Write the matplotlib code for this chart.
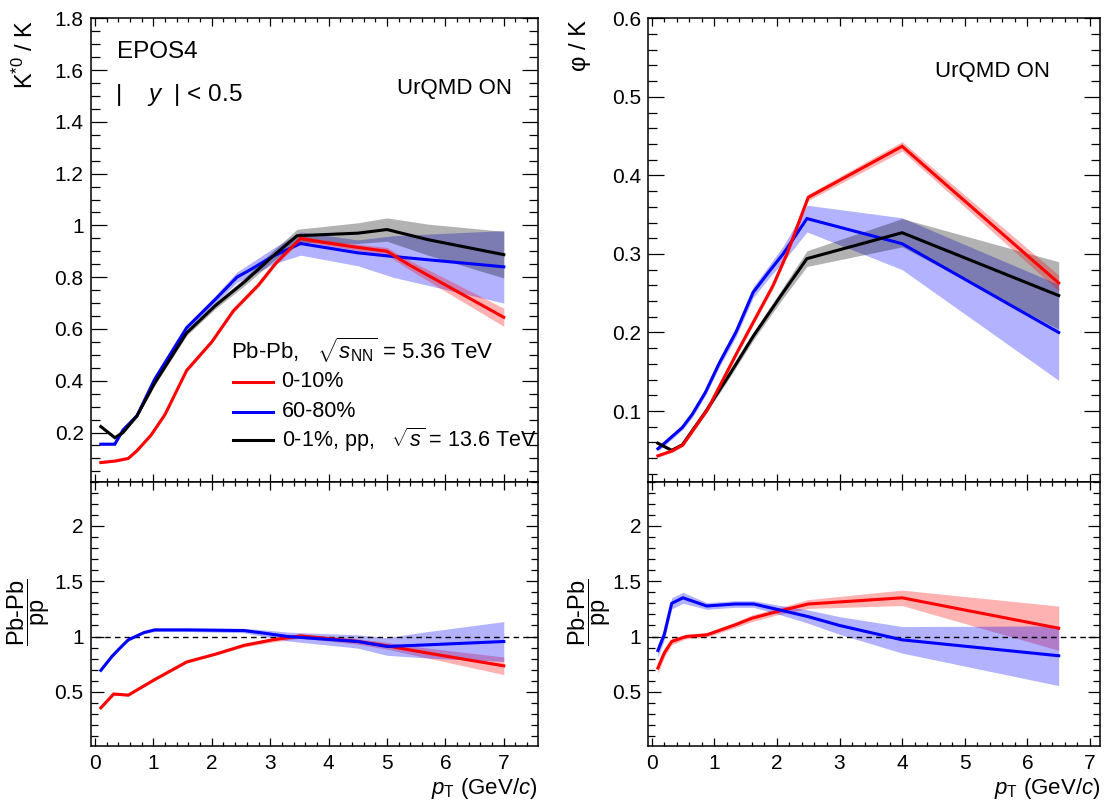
import matplotlib
matplotlib.use("Agg")
import matplotlib.pyplot as plt
from matplotlib.ticker import MultipleLocator, FuncFormatter
import numpy as np

plt.rcParams['font.family'] = ['Liberation Sans', 'DejaVu Sans']
plt.rcParams['mathtext.fontset'] = 'custom'
plt.rcParams['mathtext.rm'] = 'Liberation Sans'
plt.rcParams['mathtext.it'] = 'Liberation Sans:italic'
plt.rcParams['mathtext.bf'] = 'Liberation Sans:bold'
plt.rcParams['mathtext.default'] = 'regular'

# ---------------- K*0/K (top left) ----------------
kst_pb010_x = [0.1, 0.35, 0.57, 0.72, 0.96, 1.2, 1.57, 2.0, 2.37, 2.8, 3.1, 3.52, 3.9, 4.5, 5.0, 5.4, 6.0, 7.0]
kst_pb010_y = [0.084, 0.09, 0.10, 0.13, 0.19, 0.27, 0.44, 0.55, 0.67, 0.77, 0.855, 0.95, 0.935, 0.915, 0.90, 0.845, 0.77, 0.645]
kst_pb010_e = [0.004, 0.004, 0.004, 0.004, 0.005, 0.005, 0.006, 0.006, 0.007, 0.008, 0.008, 0.01, 0.01, 0.012, 0.015, 0.018, 0.025, 0.035]

kst_pb6080_x = [0.1, 0.34, 0.48, 0.72, 1.02, 1.57, 2.06, 2.43, 2.67, 3.04, 3.52, 4.5, 5.1, 7.0]
kst_pb6080_y = [0.155, 0.155, 0.21, 0.265, 0.405, 0.605, 0.714, 0.80, 0.83, 0.88, 0.93, 0.894, 0.88, 0.84]
kst_pb6080_e = [0.005, 0.005, 0.008, 0.008, 0.01, 0.01, 0.015, 0.02, 0.025, 0.03, 0.045, 0.05, 0.08, 0.14]

kst_pp_x = [0.1, 0.34, 0.48, 0.72, 1.02, 1.57, 2.06, 2.55, 3.04, 3.46, 4.5, 5.0, 5.7, 7.0]
kst_pp_y = [0.223, 0.18, 0.20, 0.265, 0.39, 0.585, 0.69, 0.78, 0.88, 0.96, 0.97, 0.984, 0.945, 0.887]
kst_pp_e = [0.005, 0.005, 0.005, 0.005, 0.008, 0.01, 0.012, 0.015, 0.02, 0.025, 0.04, 0.045, 0.06, 0.09]

# ---------------- phi/K (top right) ----------------
phi_pb010_x = [0.1, 0.32, 0.5, 0.9, 1.4, 1.94, 2.16, 2.5, 4.0, 6.5]
phi_pb010_y = [0.043, 0.049, 0.057, 0.103, 0.18, 0.26, 0.30, 0.372, 0.437, 0.263]
phi_pb010_e = [0.002, 0.002, 0.002, 0.003, 0.003, 0.004, 0.004, 0.004, 0.006, 0.01]

phi_pb6080_x = [0.1, 0.19, 0.49, 0.65, 0.86, 1.08, 1.35, 1.62, 1.89, 2.1, 2.48, 4.0, 6.5]
phi_pb6080_y = [0.052, 0.058, 0.079, 0.096, 0.124, 0.161, 0.201, 0.251, 0.279, 0.30, 0.345, 0.313, 0.2]
phi_pb6080_e = [0.003, 0.003, 0.003, 0.004, 0.004, 0.005, 0.006, 0.007, 0.008, 0.01, 0.017, 0.033, 0.061]

phi_pp_x = [0.1, 0.32, 0.49, 0.86, 1.24, 1.62, 2.1, 2.48, 4.0, 6.5]
phi_pp_y = [0.059, 0.050, 0.057, 0.099, 0.146, 0.195, 0.251, 0.294, 0.327, 0.247]
phi_pp_e = [0.002, 0.002, 0.002, 0.003, 0.004, 0.005, 0.007, 0.01, 0.018, 0.043]

# ---------------- ratios Pb-Pb / pp ----------------
rk_010_x = [0.1, 0.32, 0.45, 0.57, 1.02, 1.57, 2.06, 2.55, 3.04, 3.52, 4.5, 5.0, 5.7, 7.0]
rk_010_y = [0.355, 0.48, 0.475, 0.47, 0.61, 0.77, 0.84, 0.92, 0.97, 1.005, 0.955, 0.916, 0.85, 0.735]
rk_010_e = [0.01, 0.01, 0.01, 0.01, 0.01, 0.01, 0.01, 0.015, 0.02, 0.02, 0.025, 0.03, 0.045, 0.08]

rk_6080_x = [0.1, 0.29, 0.41, 0.57, 0.84, 1.02, 1.57, 2.55, 2.9, 3.3, 4.5, 5.0, 5.7, 7.0]
rk_6080_y = [0.694, 0.82, 0.886, 0.97, 1.036, 1.06, 1.06, 1.054, 1.03, 1.0, 0.955, 0.91, 0.925, 0.955]
rk_6080_e = [0.01, 0.01, 0.01, 0.01, 0.01, 0.015, 0.015, 0.02, 0.03, 0.04, 0.06, 0.08, 0.12, 0.18]

rphi_010_x = [0.1, 0.2, 0.32, 0.55, 0.88, 1.33, 1.6, 2.0, 2.5, 4.0, 6.5]
rphi_010_y = [0.715, 0.85, 0.955, 1.0, 1.015, 1.105, 1.165, 1.225, 1.294, 1.35, 1.075]
rphi_010_e = [0.05, 0.04, 0.03, 0.02, 0.02, 0.025, 0.03, 0.03, 0.04, 0.07, 0.2]

rphi_6080_x = [0.1, 0.2, 0.32, 0.5, 0.88, 1.33, 1.63, 2.0, 2.5, 3.0, 4.0, 6.5]
rphi_6080_y = [0.874, 1.015, 1.30, 1.35, 1.276, 1.294, 1.294, 1.246, 1.18, 1.10, 0.97, 0.826]
rphi_6080_e = [0.06, 0.05, 0.05, 0.05, 0.03, 0.03, 0.03, 0.04, 0.06, 0.08, 0.12, 0.27]

legend_labels = ['0-10%', '60-80%', '0-1%, pp,   $\\sqrt{\\mathit{s}}$ = 13.6 TeV']
colors = ['#ff0000', '#0000ff', '#000000']

fig = plt.figure(figsize=(11.07, 8.05), dpi=100)
LX, LW = 0.0819, 0.4038
RX, RW = 0.5856, 0.4081
UB, UH = 0.4016, 0.5757
DB, DH = 0.0733, 0.3283

ax_ul = fig.add_axes([LX, UB, LW, UH])
ax_ll = fig.add_axes([LX, DB, LW, DH])
ax_ur = fig.add_axes([RX, UB, RW, UH])
ax_lr = fig.add_axes([RX, DB, RW, DH])

fmt = FuncFormatter(lambda v, p: '%g' % round(v, 6))
TICK_FS = 15


def style(ax, upper, xlim, ylim, ymaj, ymin):
    ax.set_xlim(*xlim)
    ax.set_ylim(*ylim)
    ax.xaxis.set_major_locator(MultipleLocator(1))
    ax.xaxis.set_minor_locator(MultipleLocator(0.2))
    ax.yaxis.set_major_locator(MultipleLocator(ymaj))
    ax.yaxis.set_minor_locator(MultipleLocator(ymin))
    ax.xaxis.set_major_formatter(fmt)
    ax.yaxis.set_major_formatter(fmt)
    ax.tick_params(which='both', direction='in', top=True, right=True,
                   width=0.9, labelsize=TICK_FS)
    if upper:
        ax.tick_params(axis='x', which='major', length=5.8)
        ax.tick_params(axis='x', which='minor', length=3.2)
        ax.tick_params(axis='y', which='major', length=11.5, pad=5)
        ax.tick_params(axis='y', which='minor', length=6.5)
        ax.tick_params(axis='x', labelbottom=False)
    else:
        ax.tick_params(axis='x', which='major', length=6, pad=6)
        ax.tick_params(axis='x', which='minor', length=3.2)
        ax.tick_params(axis='y', which='major', length=9, pad=5)
        ax.tick_params(axis='y', which='minor', length=5)
    for s in ax.spines.values():
        s.set_linewidth(1.1)


def draw(ax, x, y, e, c, alpha):
    x = np.asarray(x); y = np.asarray(y); e = np.asarray(e)
    ax.fill_between(x, y - e, y + e, color=c, alpha=alpha, linewidth=0)
    ax.plot(x, y, color=c, lw=2.2, solid_joinstyle='miter')


style(ax_ul, True, (-0.074, 7.58), (0.01, 1.8), 0.2, 0.05)
style(ax_ll, False, (-0.074, 7.58), (0.01, 2.4), 0.5, 0.1)
style(ax_ur, True, (-0.054, 7.16), (0.01, 0.6), 0.1, 0.02)
style(ax_lr, False, (-0.054, 7.16), (0.01, 2.4), 0.5, 0.1)

# top-left
draw(ax_ul, kst_pb6080_x, kst_pb6080_y, kst_pb6080_e, colors[1], 0.3)
draw(ax_ul, kst_pp_x, kst_pp_y, kst_pp_e, colors[2], 0.3)
draw(ax_ul, kst_pb010_x, kst_pb010_y, kst_pb010_e, colors[0], 0.3)
# top-right
draw(ax_ur, phi_pb6080_x, phi_pb6080_y, phi_pb6080_e, colors[1], 0.3)
draw(ax_ur, phi_pp_x, phi_pp_y, phi_pp_e, colors[2], 0.3)
draw(ax_ur, phi_pb010_x, phi_pb010_y, phi_pb010_e, colors[0], 0.3)
# ratios
for ax, xlim in ((ax_ll, 7.58), (ax_lr, 7.16)):
    ax.hlines(1.0, 0.0, xlim, colors='black', linestyles=(0, (4, 3)), lw=1.0)
draw(ax_ll, rk_010_x, rk_010_y, rk_010_e, colors[0], 0.3)
draw(ax_ll, rk_6080_x, rk_6080_y, rk_6080_e, colors[1], 0.3)
draw(ax_lr, rphi_010_x, rphi_010_y, rphi_010_e, colors[0], 0.3)
draw(ax_lr, rphi_6080_x, rphi_6080_y, rphi_6080_e, colors[1], 0.3)

# axis titles
ax_ul.text(-0.147, 0.996, 'K$^{*0}$ / K', transform=ax_ul.transAxes, rotation=90,
           ha='center', va='top', fontsize=17)
ax_ur.text(-0.151, 0.995, '\u03c6 / K', transform=ax_ur.transAxes, rotation=90,
           ha='center', va='top', fontsize=17)
ratio_lbl = r'$\dfrac{\text{Pb-Pb}}{\text{pp}}$'
ax_ll.text(-0.138, 0.507, ratio_lbl, transform=ax_ll.transAxes, rotation=90,
           ha='center', va='center', fontsize=17)
ax_lr.text(-0.129, 0.507, ratio_lbl, transform=ax_lr.transAxes, rotation=90,
           ha='center', va='center', fontsize=17)
xlbl = r'$\mathit{p}_{\mathrm{T}}$ (GeV/$\mathit{c}$)'
for ax in (ax_ll, ax_lr):
    ax.text(1.0, -0.115, xlbl, transform=ax.transAxes, ha='right', va='top', fontsize=16)

# annotations
ax_ul.text(0.058, 0.927, 'EPOS4', transform=ax_ul.transAxes, ha='left', va='center', fontsize=17.5)
ax_ul.text(0.054, 0.834, '|    $\\mathit{y}$  | < 0.5', transform=ax_ul.transAxes,
           ha='left', va='center', fontsize=17.5)
ax_ul.text(0.9415, 0.849, 'UrQMD ON', transform=ax_ul.transAxes, ha='right', va='center', fontsize=16)
ax_ur.text(0.889, 0.885, 'UrQMD ON', transform=ax_ur.transAxes, ha='right', va='center', fontsize=16)

# legend
ax_ul.text(0.315, 0.284, 'Pb-Pb,   $\\sqrt{\\mathit{s}_{\\mathrm{NN}}}$ = 5.36 TeV',
           transform=ax_ul.transAxes, ha='left', va='center', fontsize=16)
leg_y = [0.216, 0.151, 0.090]
for lbl, c, yy in zip(legend_labels, colors, leg_y):
    ax_ul.plot([0.319, 0.408], [yy, yy], color=c, lw=2.2, transform=ax_ul.transAxes, clip_on=False)
    ax_ul.text(0.427, yy, lbl, transform=ax_ul.transAxes, ha='left', va='center', fontsize=15.5)

fig.savefig('out.png', dpi=100)
